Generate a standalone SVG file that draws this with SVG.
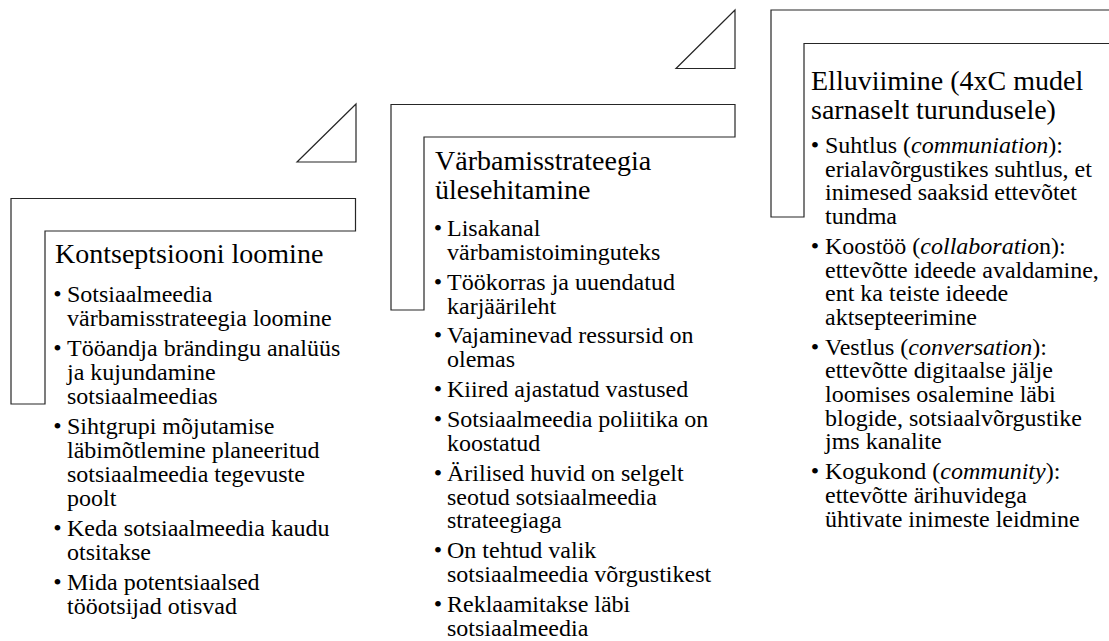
<svg xmlns="http://www.w3.org/2000/svg" width="1109" height="641" viewBox="0 0 1109 641">
<style>
.shape{fill:#fff;stroke:#262626;stroke-width:1.2;stroke-linejoin:miter}
text{font-family:"Liberation Serif","DejaVu Serif",serif;fill:#000}
.title{font-size:28px}
.body{font-size:24px}
.it{font-style:italic}
</style>
<rect width="1109" height="641" fill="#fff"/>
<g id="connectors">
<path class="shape" d="M297,162 L356,104 L356,162 Z"/>
<path class="shape" d="M676,68.5 L735,10 L735,68.5 Z"/>
</g>
<g id="step1">
<path class="shape" d="M11,198.5 H355.5 V231 H45 V404 H11 Z"/>
<text class="title" x="55" y="263" font-family="Liberation Serif, DejaVu Serif, serif">Kontseptsiooni loomine</text>
<g class="body" font-family="Liberation Serif, DejaVu Serif, serif">
<text x="57.5" y="302" text-anchor="middle">•</text>
<text x="67" y="302">Sotsiaalmeedia</text>
<text x="67" y="326">värbamisstrateegia loomine</text>
<text x="57.5" y="356" text-anchor="middle">•</text>
<text x="67" y="356">Tööandja brändingu analüüs</text>
<text x="67" y="380">ja kujundamine</text>
<text x="67" y="404">sotsiaalmeedias</text>
<text x="57.5" y="434" text-anchor="middle">•</text>
<text x="67" y="434">Sihtgrupi mõjutamise</text>
<text x="67" y="458">läbimõtlemine planeeritud</text>
<text x="67" y="482">sotsiaalmeedia tegevuste</text>
<text x="67" y="506">poolt</text>
<text x="57.5" y="536" text-anchor="middle">•</text>
<text x="67" y="536">Keda sotsiaalmeedia kaudu</text>
<text x="67" y="560">otsitakse</text>
<text x="57.5" y="590" text-anchor="middle">•</text>
<text x="67" y="590">Mida potentsiaalsed</text>
<text x="67" y="614">tööotsijad otisvad</text>
</g>
</g>
<g id="step2">
<path class="shape" d="M391,104.5 H735 V137 H424 V310 H391 Z"/>
<text class="title" x="435" y="170">Värbamisstrateegia</text>
<text class="title" x="435" y="198.5">ülesehitamine</text>
<g class="body">
<text x="438" y="236" text-anchor="middle">•</text>
<text x="447" y="236">Lisakanal</text>
<text x="447" y="259.9">värbamistoiminguteks</text>
<text x="438" y="289.7" text-anchor="middle">•</text>
<text x="447" y="289.7">Töökorras ja uuendatud</text>
<text x="447" y="313.5">karjäärileht</text>
<text x="438" y="343.4" text-anchor="middle">•</text>
<text x="447" y="343.4">Vajaminevad ressursid on</text>
<text x="447" y="367.2">olemas</text>
<text x="438" y="397.1" text-anchor="middle">•</text>
<text x="447" y="397.1">Kiired ajastatud vastused</text>
<text x="438" y="427" text-anchor="middle">•</text>
<text x="447" y="427">Sotsiaalmeedia poliitika on</text>
<text x="447" y="450.8">koostatud</text>
<text x="438" y="480.6" text-anchor="middle">•</text>
<text x="447" y="480.6">Ärilised huvid on selgelt</text>
<text x="447" y="504.5">seotud sotsiaalmeedia</text>
<text x="447" y="528.3">strateegiaga</text>
<text x="438" y="558.2" text-anchor="middle">•</text>
<text x="447" y="558.2">On tehtud valik</text>
<text x="447" y="582">sotsiaalmeedia võrgustikest</text>
<text x="438" y="611.9" text-anchor="middle">•</text>
<text x="447" y="611.9">Reklaamitakse läbi</text>
<text x="447" y="635.7">sotsiaalmeedia</text>
</g>
</g>
<g id="step3">
<path class="shape" d="M771,10 H1115 V43.5 H804 V217 H771 Z"/>
<text class="title" x="811" y="89.5">Elluviimine (4xC mudel</text>
<text class="title" x="811" y="118.5">sarnaselt turundusele)</text>
<g class="body">
<text x="815" y="153" text-anchor="middle">•</text>
<text x="825" y="153">Suhtlus (<tspan class="it">communiation</tspan>):</text>
<text x="825" y="176.7">erialavõrgustikes suhtlus, et</text>
<text x="825" y="200.4">inimesed saaksid ettevõtet</text>
<text x="825" y="224.1">tundma</text>
<text x="815" y="253.8" text-anchor="middle">•</text>
<text x="825" y="253.8">Koostöö (<tspan class="it">collaboratio</tspan>n):</text>
<text x="825" y="277.5">ettevõtte ideede avaldamine,</text>
<text x="825" y="301.2">ent ka teiste ideede</text>
<text x="825" y="324.9">aktsepteerimine</text>
<text x="815" y="354.6" text-anchor="middle">•</text>
<text x="825" y="354.6">Vestlus (<tspan class="it">conversation</tspan>):</text>
<text x="825" y="378.3">ettevõtte digitaalse jälje</text>
<text x="825" y="402">loomises osalemine läbi</text>
<text x="825" y="425.7">blogide, sotsiaalvõrgustike</text>
<text x="825" y="449.4">jms kanalite</text>
<text x="815" y="479.1" text-anchor="middle">•</text>
<text x="825" y="479.1">Kogukond (<tspan class="it">community</tspan>):</text>
<text x="825" y="502.8">ettevõtte ärihuvidega</text>
<text x="825" y="526.5">ühtivate inimeste leidmine</text>
</g>
</g>
</svg>
